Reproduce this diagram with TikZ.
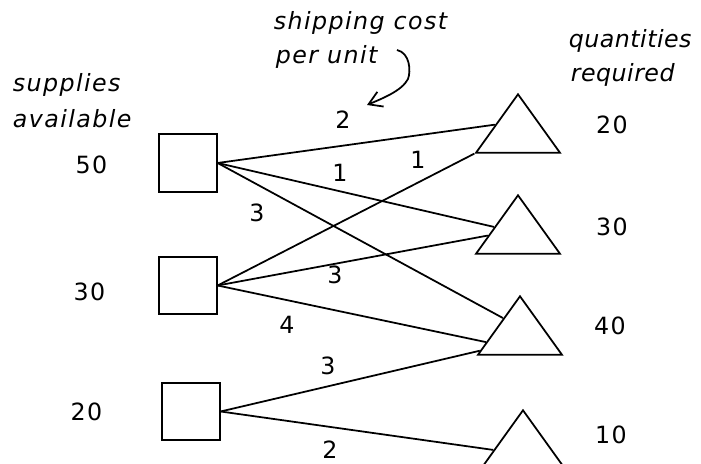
\documentclass[tikz,border=0pt]{standalone}
\usepackage{fontspec}
\setmainfont{DejaVu Sans}[LetterSpace=6]
\usepackage{tikz}
\usetikzlibrary{arrows.meta,shapes.geometric,calc}

\begin{document}
\begin{tikzpicture}[font=\fontsize{13.5}{16}\selectfont,line width=1pt,>={Straight Barb[length=2.6mm,width=3.2mm]},
  supply/.style={draw,minimum size=1.15cm,inner sep=0},
  demand/.style={draw,isosceles triangle,isosceles triangle stretches,shape border rotate=90,
    minimum width=1.68cm,minimum height=1.17cm,inner sep=0,anchor=apex},
  note/.style={anchor=base west,inner sep=0,font=\fontsize{13.5}{16}\selectfont\itshape}]
  \useasboundingbox (0,0) rectangle (14.02,9.28);
  % sources
  \node[supply] (s1) at (3.76,6.02) {};
  \node[supply] (s2) at (3.76,3.57) {};
  \node[supply] (s3) at (3.82,1.05) {};
  \node (a1) at (1.83,5.98) {50};
  \node (a2) at (1.79,3.44) {30};
  \node (a3) at (1.73,1.04) {20};
  % destinations
  \node[demand] (t1) at (10.36,7.44) {};
  \node[demand] (t2) at (10.36,5.42) {};
  \node[demand] (t3) at (10.40,3.40) {};
  \node[demand] (t4) at (10.46,1.12) {};
  \node (r1) at (12.24,6.78) {20};
  \node (r2) at (12.24,4.74) {30};
  \node (r3) at (12.20,2.76) {40};
  \node (r4) at (12.22,0.58) {10};
  % routes
  \draw (s1.east) -- ($(t1.left corner)!0.47!(t1.apex)$);
  \draw (s1.east) -- ($(t2.left corner)!0.45!(t2.apex)$);
  \draw (s1.east) -- ($(t3.left corner)!0.61!(t3.apex)$);
  \draw (s2.east) -- (t1.left corner);
  \draw (s2.east) -- ($(t2.left corner)!0.31!(t2.apex)$);
  \draw (s2.east) -- ($(t3.left corner)!0.22!(t3.apex)$);
  \draw (s3.east) -- ($(t3.left corner)!0.08!(t3.apex)$);
  \draw (s3.east) -- ($(t4.left corner)!0.32!(t4.apex)$);
  % costs
  \node (c11) at (6.86,6.88) {2};
  \node (c12) at (6.80,5.82) {1};
  \node (c13) at (5.14,5.02) {3};
  \node (c21) at (8.36,6.08) {1};
  \node (c22) at (6.70,3.78) {3};
  \node (c23) at (5.74,2.78) {4};
  \node (c33) at (6.56,1.96) {3};
  \node (c34) at (6.60,0.28) {2};
  % notes
  \node[note] (sup1) at (0.24,7.44) {supplies};
  \node[note] (sup2) at (0.24,6.72) {available};
  \node[note] (cost1) at (5.46,8.68) {shipping cost};
  \node[note] (cost2) at (5.50,8.00) {per unit};
  \node[note] (req1) at (11.36,8.32) {\addfontfeature{LetterSpace=2}quantities};
  \node[note] (req2) at (11.40,7.64) {\addfontfeature{LetterSpace=2}required};
  \coordinate (hook) at (7.94,8.28);
  \coordinate (tip) at (7.34,7.18);
  \draw[->] (hook) .. controls (8.20,8.22) and (8.22,7.86) .. (8.16,7.70)
    .. controls (8.04,7.46) and (7.62,7.30) .. (tip);
\end{tikzpicture}
\end{document}
